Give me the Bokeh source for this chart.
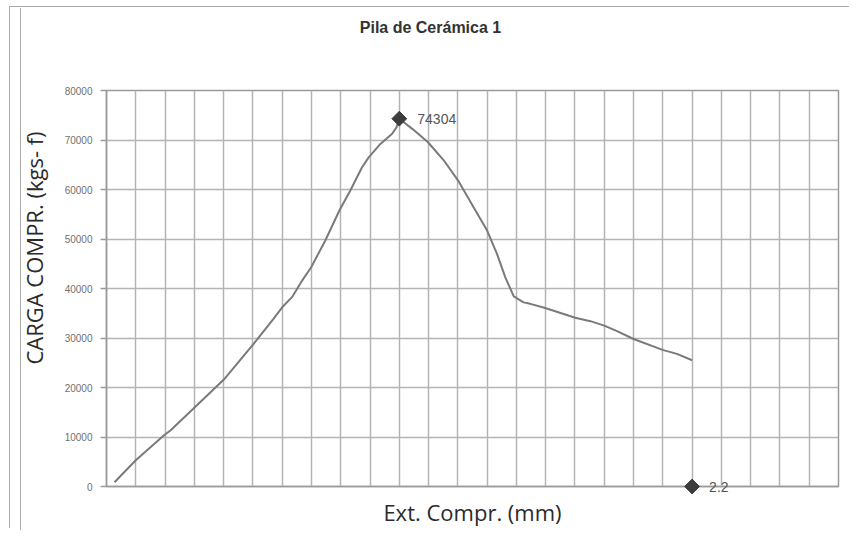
from math import pi
from bokeh.plotting import figure
from bokeh.models import FixedTicker, Range1d
from bokeh.core.properties import value
from bokeh.embed import file_html
from bokeh.resources import INLINE

# ---- data ----
ext_mm = [0.03, 0.109, 0.215, 0.24, 0.326, 0.441, 0.551, 0.628, 0.66, 0.697,
          0.735, 0.769, 0.822, 0.875, 0.916, 0.96, 0.985, 1.029, 1.073, 1.09,
          1.1, 1.15, 1.207, 1.267, 1.321, 1.379, 1.43, 1.467, 1.498, 1.53,
          1.567, 1.592, 1.645, 1.761, 1.818, 1.87, 1.918, 1.98, 2.089, 2.143, 2.2]
carga_kgf = [870, 5250, 10300, 11300, 15700, 21600, 28700, 33900, 36200, 38250,
             41600, 44300, 49700, 55750, 59800, 64500, 66500, 69200, 71250, 72600,
             74304, 72200, 69600, 65900, 61800, 56400, 51700, 47000, 42300, 38400,
             37200, 36900, 36100, 34100, 33400, 32500, 31400, 29800, 27600, 26800, 25500]
peak_x = [1.1]
peak_y = [74304]
end_x = [2.2]
end_y = [0]
y_ticks = [0, 10000, 20000, 30000, 40000, 50000, 60000, 70000, 80000]
x_grid_step = 0.11
x_grid_count = 25

title_text = "Pila de Cerámica 1"
y_label_text = "CARGA COMPR. (kgs- f)"
x_label_text = "Ext. Compr. (mm)"

x_ticks = [round(x_grid_step * i, 4) for i in range(x_grid_count + 1)]
x_max = x_ticks[-1]
y_max = y_ticks[-1]

FRAME_W, FRAME_H = 732, 396

p = figure(width=840, height=522, output_backend="svg", toolbar_location=None,
           x_range=Range1d(0, x_max), y_range=Range1d(0, y_max),
           min_border_left=96, min_border_right=12, min_border_top=82,
           min_border_bottom=44)
# chart-area frame lines (page edge line + chart border), drawn around the figure
p.styles = {
    "margin-left": "10px",
    "margin-top": "8px",
    "background": "linear-gradient(to right, #ffffff 10px, #aaaaaa 10px, #aaaaaa 11px, #ffffff 11px)",
    "box-shadow": "0 -1px 0 0 #ffffff, -1px -2px 0 0 #aaaaaa",
}
p.background_fill_color = "white"
p.border_fill_alpha = 0
p.outline_line_color = "#9a9a9a"
p.outline_line_width = 1.5

# grids (x axis itself carries no tick labels)
p.xaxis.ticker = FixedTicker(ticks=[])
p.xgrid.ticker = FixedTicker(ticks=x_ticks)
p.yaxis.ticker = FixedTicker(ticks=y_ticks)
p.xgrid.grid_line_color = "#b4b4b4"
p.xgrid.grid_line_width = 1.5
p.ygrid.grid_line_color = "#b4b4b4"
p.ygrid.grid_line_width = 1.5

# x axis
xa = p.xaxis[0]
xa.axis_label = x_label_text
xa.axis_label_text_font = "Open Sans"
xa.axis_label_text_font_style = "normal"
xa.axis_label_text_font_size = "22px"
xa.axis_label_text_color = "#2b2b2b"
xa.axis_label_standoff = 10
xa.major_label_standoff = 0
xa.major_tick_line_color = None
xa.minor_tick_line_color = None
xa.major_tick_out = 0
xa.axis_line_color = "#9a9a9a"
xa.axis_line_width = 1.5

# y axis
ya = p.yaxis[0]
ya.major_label_text_font = "Liberation Sans"
ya.major_label_text_font_size = "10px"
ya.major_label_text_color = "#707070"
ya.major_label_standoff = 8
ya.major_tick_out = 6
ya.major_tick_in = 0
ya.major_tick_line_color = "#9a9a9a"
ya.major_tick_line_width = 1.5
ya.minor_tick_line_color = None
ya.axis_line_color = "#9a9a9a"
ya.axis_line_width = 1.5

# chart title, high above the frame (unclipped overlay text)
p.text(x=[x_max * (324 / FRAME_W)], y=[y_max * (459 / FRAME_H)], text=[title_text],
       text_align="center", text_baseline="middle",
       text_font=value("Liberation Sans"), text_font_style="bold",
       text_font_size="16px", text_color="#333333", level="overlay")

# y axis title: left of the frame, somewhat above its middle (unclipped overlay text)
p.text(x=[x_max * (-73 / FRAME_W)], y=[y_max * (238.5 / FRAME_H)], text=[y_label_text],
       angle=pi / 2, text_align="center", text_baseline="middle",
       text_font=value("Open Sans"), text_font_size="22px", text_color="#2b2b2b",
       level="overlay")

# curve
p.line(ext_mm, carga_kgf, line_color="#7a7a7a", line_width=2)

# marked points
p.scatter(peak_x + end_x, peak_y + end_y, marker="square", angle=pi / 4,
          size=10.5, fill_color="#3d3d3d", line_color="#3d3d3d", level="overlay")
p.text(x=peak_x, y=peak_y, text=[str(v) for v in peak_y], x_offset=18,
       text_baseline="middle", text_font=value("Liberation Sans"),
       text_font_size="14px", text_color="#555555", level="overlay")
p.text(x=end_x, y=end_y, text=[str(v) for v in end_x], x_offset=17,
       text_baseline="middle", text_font=value("Liberation Sans"),
       text_font_size="14px", text_color="#555555", level="overlay")

open("out.html", "w").write(file_html(p, INLINE))
